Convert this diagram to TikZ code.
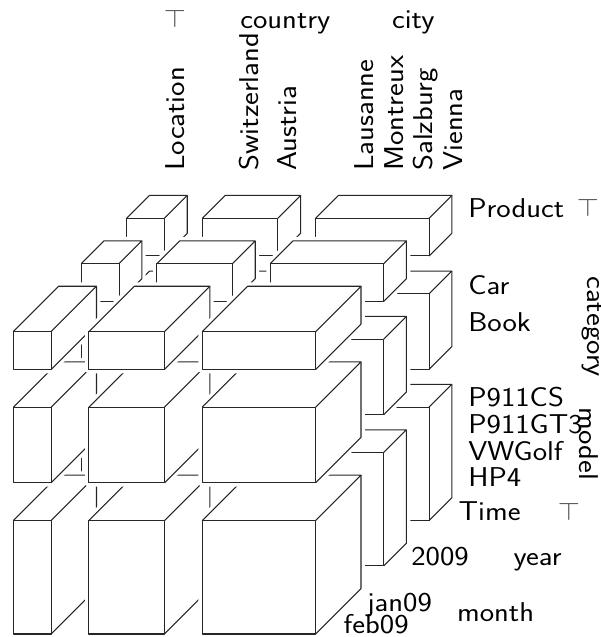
\documentclass[tikz,border=0pt]{standalone}
\usepackage{amssymb}
\usepackage{tikz}

\tikzset{
  txt/.style={font=\sffamily\fontsize{15.5}{18}\selectfont, inner sep=0pt, anchor=base west},
  lbl/.style={txt, xscale=1.12},
  uplbl/.style={txt, rotate=90, xscale=1.12},
  downlbl/.style={txt, rotate=-90, xscale=1.12, anchor=base},
  toplbl/.style={lbl, anchor=base, text=black!70},
  halo/.style={fill=white, draw=white, line width=4.4pt, line join=round},
  rim/.style={draw=black!85, line width=0.6pt, line join=round}
}

% cuboid from x0 x1, y0 y1, z0 z1 (z goes to the back)
\newcommand{\cuboid}[6]{%
  \path[halo] (#1,#3,#5) -- (#2,#3,#5) -- (#2,#3,#6) -- (#2,#4,#6)
    -- (#1,#4,#6) -- (#1,#4,#5) -- cycle;
  \draw[rim] (#1,#3,#5) rectangle (#2,#4,#5);
  \draw[rim] (#1,#4,#5) -- (#1,#4,#6) -- (#2,#4,#6) -- (#2,#4,#5);
  \draw[rim] (#2,#3,#5) -- (#2,#3,#6) -- (#2,#4,#6);
}

\begin{document}
\begin{tikzpicture}[x=0.02cm, y=-0.02cm]
\useasboundingbox (0,0) rectangle (600,637);

% the cells, back to front
\begin{scope}[shift={(0.266cm,-6.634cm)}, x={(0.756cm,0cm)}, y={(0cm,0.756cm)}, z={(0.454cm,0.454cm)}]
\foreach \za/\zb in {5/6,3/4,0/2}
  \foreach \ya/\yb in {-8/-5,-4/-2,-1/0}
    \foreach \xa/\xb in {0/1,2/4,5/8}
      {\cuboid{\xa}{\xb}{\ya}{\yb}{\za}{\zb}}
\end{scope}

% location
\node[toplbl] (loctop) at (175,27) {$\top$};
\node[lbl] (country) at (240,28) {country};
\node[lbl] (city) at (391.7,28) {city};
\node[uplbl] (location) at (185,171) {Location};
\node[uplbl] (switzerland) at (258.3,171) {Switzerland};
\node[uplbl] (austria) at (296.7,171) {Austria};
\node[uplbl] (lausanne) at (373.5,171) {Lausanne};
\node[uplbl] (montreux) at (403.5,171) {Montreux};
\node[uplbl] (salzburg) at (433,171) {Salzburg};
\node[uplbl] (vienna) at (462,171) {Vienna};

% product
\node[lbl] (product) at (468,217.3) {Product};
\node[toplbl] (prodtop) at (588,216.7) {$\top$};
\node[lbl] (car) at (468,294) {Car};
\node[lbl] (book) at (468,331.7) {Book};
\node[downlbl] (category) at (587,326.7) {category};
\node[lbl] (p911cs) at (468,406.7) {P911CS};
\node[lbl] (p911gt3) at (468,433.3) {P911GT3};
\node[lbl] (vwgolf) at (468,460) {VWGolf};
\node[lbl] (hp4) at (468,486.7) {HP4};
\node[downlbl] (model) at (579.5,444) {model};

% time
\node[lbl] (time) at (458.3,520) {Time};
\node[toplbl] (timetop) at (569,520) {$\top$};
\node[lbl] (y2009) at (411,565.7) {2009};
\node[lbl] (year) at (513.3,565.7) {year};
\node[lbl] (jan09) at (366.7,611) {jan09};
\node[lbl] (feb09) at (343.3,633.3) {feb09};
\node[lbl] (month) at (456.7,621.7) {month};
\end{tikzpicture}
\end{document}
